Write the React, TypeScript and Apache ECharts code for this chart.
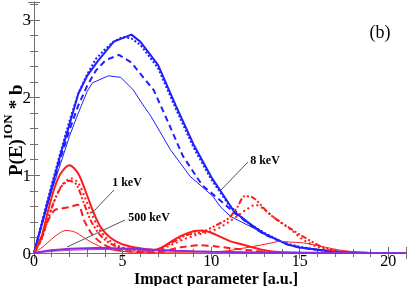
import React, { useEffect, useRef } from "react";
import * as echarts from "echarts";

// ---- Data ----
const blueSolidX = [0, 0.5, 1, 1.5, 2, 2.5, 3, 3.6, 4.5, 5.5, 6, 7, 8, 9, 10, 10.7, 11.3, 12.4, 13, 14.3, 15, 16.5, 17.5, 19, 21];
const blueSolidY = [0, 0.42, 0.85, 1.27, 1.65, 2.05, 2.28, 2.47, 2.72, 2.81, 2.72, 2.42, 1.9, 1.4, 0.98, 0.74, 0.53, 0.34, 0.25, 0.11, 0.07, 0.03, 0.01, 0, 0];

const blueDotX = [0, 0.5, 1, 1.5, 2, 2.5, 3, 3.5, 4, 4.5, 5, 5.5, 6, 7, 8, 9, 10, 11, 12, 13, 14, 15, 16, 17, 18, 21];
const blueDotY = [0, 0.45, 0.88, 1.3, 1.7, 2.05, 2.3, 2.5, 2.62, 2.72, 2.78, 2.76, 2.68, 2.38, 1.86, 1.36, 0.95, 0.62, 0.4, 0.26, 0.14, 0.08, 0.04, 0.015, 0, 0];

const blueDashX = [0, 0.5, 1, 1.5, 2, 2.5, 3, 3.5, 4, 4.35, 4.8, 5.5, 6.2, 6.75, 7.5, 8.4, 9.5, 10.5, 11.3, 12.4, 13, 14.3, 15, 16.5, 18, 21];
const blueDashY = [0, 0.42, 0.83, 1.22, 1.58, 1.9, 2.15, 2.35, 2.47, 2.51, 2.55, 2.45, 2.25, 2.1, 1.72, 1.25, 0.87, 0.68, 0.52, 0.33, 0.24, 0.11, 0.07, 0.03, 0, 0];

const blueThinX = [0, 0.5, 1, 1.5, 2, 2.5, 3, 3.3, 4.2, 4.9, 5.6, 6.2, 6.6, 7.7, 8.8, 10.1, 10.5, 11.1, 12.4, 13, 14.3, 15, 16.5, 18, 21];
const blueThinY = [0, 0.4, 0.8, 1.15, 1.5, 1.8, 2.08, 2.19, 2.28, 2.26, 2.1, 1.89, 1.76, 1.33, 0.99, 0.73, 0.6, 0.47, 0.32, 0.24, 0.11, 0.07, 0.03, 0, 0];

const redSolidX = [0, 0.4, 0.8, 1.16, 1.5, 2, 2.5, 3, 3.4, 3.8, 4.3, 4.9, 5.5, 6, 6.75, 7.2, 7.7, 8.3, 9, 9.5, 10, 10.5, 11.1, 11.6, 12.9, 14, 16, 21];
const redSolidY = [0, 0.19, 0.55, 0.84, 1.02, 1.13, 1.02, 0.74, 0.5, 0.32, 0.2, 0.12, 0.08, 0.06, 0.04, 0.07, 0.14, 0.22, 0.28, 0.29, 0.26, 0.21, 0.15, 0.12, 0.04, 0.01, 0, 0];

const redDashDotX = [0, 0.4, 0.8, 1.2, 1.6, 2, 2.4, 2.8, 3.2, 3.6, 4, 4.5, 5, 5.5, 6, 6.5, 7, 7.5, 8, 8.5, 9, 9.5, 10.3, 11, 11.45, 11.9, 12.3, 13.3, 14.3, 15.2, 16.2, 17, 18, 21];
const redDashDotY = [0, 0.17, 0.45, 0.7, 0.87, 0.93, 0.88, 0.65, 0.42, 0.27, 0.17, 0.1, 0.06, 0.04, 0.03, 0.03, 0.05, 0.1, 0.16, 0.22, 0.25, 0.27, 0.36, 0.45, 0.58, 0.73, 0.72, 0.5, 0.34, 0.21, 0.085, 0.03, 0.005, 0];

const redDotX = [0, 0.4, 0.8, 1.2, 1.6, 2.1, 2.5, 2.9, 3.3, 3.7, 4.1, 4.6, 5, 5.5, 6, 6.5, 7, 7.5, 8, 8.5, 9, 9.5, 10, 10.5, 11, 11.5, 12, 12.5, 13, 13.7, 14.5, 15.2, 16, 17, 18, 21];
const redDotY = [0, 0.16, 0.44, 0.7, 0.88, 0.96, 0.9, 0.7, 0.48, 0.3, 0.19, 0.11, 0.07, 0.05, 0.03, 0.03, 0.04, 0.08, 0.13, 0.18, 0.22, 0.25, 0.28, 0.33, 0.4, 0.48, 0.56, 0.62, 0.56, 0.43, 0.3, 0.17, 0.08, 0.02, 0, 0];

const redDashX = [0, 0.4, 0.8, 1.16, 1.5, 2, 2.47, 2.85, 3.3, 3.8, 4.3, 5, 6, 7, 7.5, 8, 8.5, 9.3, 10.3, 11, 12, 13, 14, 21];
const redDashY = [0, 0.2, 0.42, 0.55, 0.57, 0.59, 0.62, 0.41, 0.235, 0.13, 0.07, 0.03, 0.01, 0.01, 0.03, 0.06, 0.08, 0.1, 0.085, 0.064, 0.04, 0.015, 0, 0];

const redThinX = [0, 0.5, 1, 1.4, 1.8, 2.3, 2.8, 3.3, 4, 4.5, 5, 6, 8, 10, 11, 11.5, 12.4, 13.2, 13.9, 14.5, 15.2, 16.2, 17.5, 19, 21];
const redThinY = [0, 0.08, 0.18, 0.25, 0.29, 0.27, 0.2, 0.13, 0.06, 0.035, 0.02, 0.01, 0.01, 0.015, 0.03, 0.05, 0.085, 0.12, 0.15, 0.14, 0.13, 0.085, 0.03, 0.005, 0];

const purpleX = [0, 0.5, 1, 1.5, 2, 3, 4, 5, 6, 7, 8, 9, 10, 12, 14, 17, 21];
const purpleY = [0, 0.02, 0.035, 0.045, 0.055, 0.062, 0.063, 0.058, 0.05, 0.04, 0.03, 0.022, 0.016, 0.008, 0.004, 0.002, 0.001];

const purpleThinX = [0, 1, 2, 3, 4, 5, 6, 8, 10, 12, 15, 18, 21];
const purpleThinY = [0, 0.02, 0.035, 0.042, 0.045, 0.043, 0.038, 0.026, 0.016, 0.01, 0.006, 0.004, 0.003];

const xTicks = [0, 5, 10, 15, 20];
const yTicks = [0, 1, 2, 3];

const labels = [
  { text: "1 keV", x: 127, y: 182 },
  { text: "500 keV", x: 149, y: 217 },
  { text: "8 keV", x: 265, y: 160 },
];

const zip = (xs: number[], ys: number[]) => xs.map((x, i) => [x, ys[i]]);

const BLUE = "#1f1fff";
const RED = "#ff1a1a";
const PURPLE = "#8a2be2";
const FONT = "Liberation Serif";

export default function App() {
  const ref = useRef<HTMLDivElement>(null);
  useEffect(() => {
    if (!ref.current) return;
    const chart = echarts.init(ref.current, undefined, { renderer: "svg" });
    const axisCommon = {
      axisLine: { show: true, lineStyle: { color: "#707070", width: 1 } },
      axisTick: { show: true, inside: true, length: 6, lineStyle: { color: "#707070" } },
      minorTick: { show: true, splitNumber: 5, length: 4, lineStyle: { color: "#707070" } },
      splitLine: { show: false },
    };
    const xLabel = {
      fontFamily: FONT,
      fontSize: 16,
      lineHeight: 12,
      color: "#000",
      margin: 1,
      showMaxLabel: false,
      formatter: (v: number) => (xTicks.includes(v) ? String(v) : ""),
    };
    const yLabel = {
      fontFamily: FONT,
      fontSize: 17,
      color: "#000",
      margin: 3,
      showMaxLabel: false,
      formatter: (v: number) => (yTicks.includes(v) ? String(v) : ""),
    };
    const mk = (name: string, xs: number[], ys: number[], color: string, width: number, type: any, smooth: any) => ({
      name,
      type: "line",
      data: zip(xs, ys),
      showSymbol: false,
      smooth,
      lineStyle: { color, width, type },
      z: 3,
    });
    const line = (x1: number, y1: number, x2: number, y2: number) => ({
      type: "line",
      shape: { x1, y1, x2, y2 },
      style: { stroke: "#555", lineWidth: 1 },
      z: 10,
    });
    chart.setOption({
      animation: false,
      grid: { left: 34, right: 1, top: 2, bottom: 33, containLabel: false },
      xAxis: [
        { type: "value", min: 0, max: 21, interval: 5, ...axisCommon, axisLabel: xLabel },
        { type: "value", position: "top", min: 0, max: 21, interval: 5, ...axisCommon, axisLabel: { show: false } },
      ],
      yAxis: [
        { type: "value", min: 0, max: 3.23, interval: 1, ...axisCommon, axisLabel: yLabel },
        { type: "value", position: "right", min: 0, max: 3.23, interval: 1, ...axisCommon, axisLabel: { show: false } },
      ],
      series: [
        mk("blueThin", blueThinX, blueThinY, BLUE, 1, "solid", false),
        mk("blueDash", blueDashX, blueDashY, BLUE, 2, [6, 4], false),
        mk("blueDot", blueDotX, blueDotY, BLUE, 2, [2, 2], false),
        mk("blueSolid", blueSolidX, blueSolidY, BLUE, 2, "solid", false),
        mk("redThin", redThinX, redThinY, RED, 1, "solid", 0.3),
        mk("redDash", redDashX, redDashY, RED, 2, [7, 4], 0.3),
        mk("redDot", redDotX, redDotY, RED, 2, [2, 3], 0.3),
        mk("redDashDot", redDashDotX, redDashDotY, RED, 2, [6, 2, 2, 2, 2, 2], 0.3),
        mk("redSolid", redSolidX, redSolidY, RED, 2, "solid", 0.3),
        mk("purpleThin", purpleThinX, purpleThinY, "#b040c0", 1, "solid", 0.3),
        mk("purple", purpleX, purpleY, PURPLE, 2, "solid", 0.3),
      ],
      graphic: [
        line(114, 190, 92, 213),
        line(125, 220, 67, 247),
        line(248, 162, 221, 190),
        ...labels.map((l) => ({
          type: "text",
          x: l.x,
          y: l.y,
          z: 10,
          style: {
            text: l.text,
            font: `bold 12px ${FONT}`,
            fill: "#000",
            align: "center",
            verticalAlign: "middle",
          },
        })),
        {
          type: "text",
          x: 380,
          y: 32,
          z: 10,
          style: { text: "(b)", font: `18px ${FONT}`, fill: "#000", align: "center", verticalAlign: "middle" },
        },
        {
          type: "text",
          x: 216,
          y: 278,
          z: 10,
          style: {
            text: "Impact parameter [a.u.]",
            font: `bold 16px ${FONT}`,
            lineHeight: 13,
            fill: "#000",
            align: "center",
            verticalAlign: "middle",
          },
        },
        {
          type: "group",
          x: 15,
          y: 176,
          rotation: Math.PI / 2,
          children: [
            { type: "text", x: 0, y: 0, style: { text: "P(E)", font: `bold 19px ${FONT}`, fill: "#000", align: "left", verticalAlign: "middle" } },
            { type: "text", x: 37, y: -8, style: { text: "ION", font: `bold 13px ${FONT}`, fill: "#000", align: "left", verticalAlign: "middle" } },
            { type: "text", x: 62, y: 0, style: { text: " * b", font: `bold 19px ${FONT}`, fill: "#000", align: "left", verticalAlign: "middle" } },
          ],
        },
      ],
    });
    return () => chart.dispose();
  }, []);
  return <div ref={ref} style={{ position: "fixed", left: 0, top: 0, width: 407, height: 286 }} />;
}
